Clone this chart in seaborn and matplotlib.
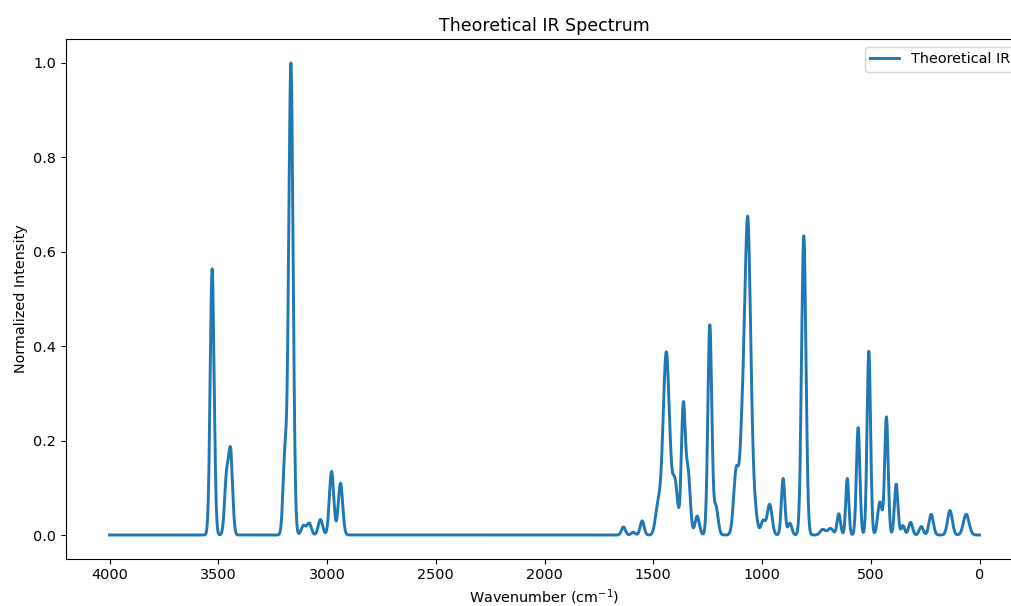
import numpy as np
import pandas as pd
import seaborn as sns
import matplotlib
matplotlib.use('Agg')
import matplotlib.pyplot as plt


# PEAK LIST (wavenumber, relative intensity, gaussian width)
peak_pos = [3528, 3462, 3443, 3193, 3166, 3108, 3082, 3030, 2979, 2938,
            1637, 1592, 1551, 1478, 1440, 1400, 1362, 1340, 1298, 1240,
            1212, 1118, 1092, 1066, 1035, 995, 965, 903, 872, 808,
            720, 685, 647, 608, 558, 509, 458, 428, 383, 352,
            317, 268, 222, 136, 61]
peak_int = [0.565, 0.120, 0.172, 0.170, 1.000, 0.020, 0.025, 0.033, 0.135, 0.110,
            0.017, 0.006, 0.030, 0.060, 0.388, 0.110, 0.270, 0.130, 0.040, 0.445,
            0.060, 0.140, 0.150, 0.670, 0.050, 0.030, 0.065, 0.120, 0.025, 0.635,
            0.012, 0.014, 0.045, 0.120, 0.228, 0.390, 0.070, 0.250, 0.108, 0.020,
            0.027, 0.018, 0.044, 0.052, 0.044]
peak_sig = [9, 9, 9, 9, 10, 10, 10, 10, 10, 10,
            9, 9, 9, 12, 15, 12, 9, 10, 10, 9,
            10, 12, 10, 14, 12, 10, 11, 8, 9, 10,
            12, 12, 8, 7, 8, 8, 10, 8, 8, 8,
            9, 9, 10, 11, 13]

# BUILD SPECTRUM
wavenumber = np.linspace(0, 4000, 4001)
intensity = np.zeros_like(wavenumber)
for p, a, s in zip(peak_pos, peak_int, peak_sig):
    intensity += a * np.exp(-(wavenumber - p) ** 2 / (2 * s ** 2))
intensity = intensity / intensity.max()

ir_df = pd.DataFrame({'Wavenumber': wavenumber, 'Intensity': intensity})

# PLOT
plt.rcParams['font.size'] = 10.4
figure = plt.figure(figsize=(10.11, 6.06), dpi=100)
axes = figure.add_axes([0.0653, 0.0782, 0.9466, 0.8568])
sns.lineplot(data=ir_df, x='Wavenumber', y='Intensity', ax=axes,
             color='#1f77b4', linewidth=2.1, label='Theoretical IR')
axes.invert_xaxis()
axes.set_title('Theoretical IR Spectrum')
axes.set_xlabel('Wavenumber (cm$^{-1}$)')
axes.set_ylabel('Normalized Intensity')
axes.legend(loc='upper right')
figure.savefig('out.png', dpi=100)
